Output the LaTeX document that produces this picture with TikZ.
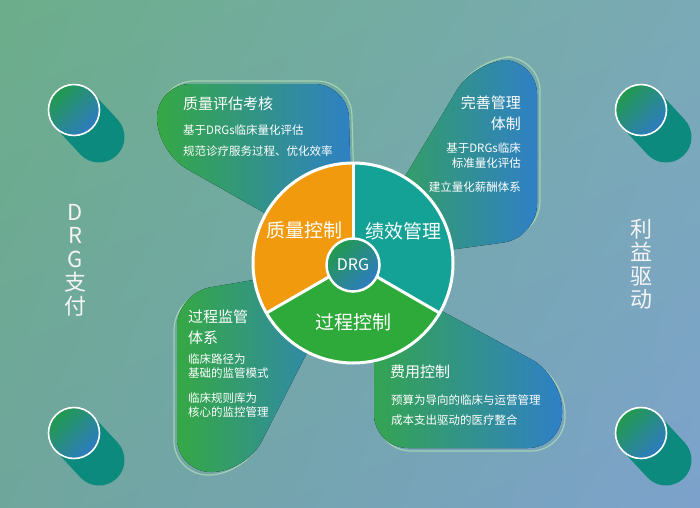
\documentclass[tikz,border=0pt]{standalone}
\usepackage{fontspec}
\setmainfont{Noto Sans CJK SC}
\usetikzlibrary{positioning,shadings}

\definecolor{bgtl}{HTML}{6CAE8A}
\definecolor{bgtr}{HTML}{7AAAB6}
\definecolor{bgbl}{HTML}{6FA69C}
\definecolor{bgbr}{HTML}{7CA2CC}
\definecolor{leafgreen}{HTML}{35A844}
\definecolor{leafblue}{HTML}{2F80C6}
\definecolor{pieorange}{HTML}{F29A0E}
\definecolor{pieteal}{HTML}{13A295}
\definecolor{piegreen}{HTML}{2DAA39}
\definecolor{dotgreen}{HTML}{229A4E}
\definecolor{dotblue}{HTML}{2E7BC2}
\definecolor{tailteal}{HTML}{0C8A7E}

% outlines of the four leaves (tip under the pie)
\newcommand{\leafQuality}{(353,263) -- (157,152) -- (157,84) -- (348,84) -- cycle}
\newcommand{\leafPerf}{(353,263) -- (475,60) -- (537,60) -- (537,238) -- cycle}
\newcommand{\leafProcess}{(353,263) -- (177,293) -- (177,472) -- (246,472) -- cycle}
\newcommand{\leafCost}{(353,263) -- (562,376) -- (562,448) -- (374,448) -- (374,330) -- cycle}

\tikzset{%
	leaf/.style   = {left color=leafgreen, right color=leafblue, rounded corners=34pt},
	rim/.style    = {draw=white!60!leafgreen, draw opacity=0.8, line width=1.2pt,
		rounded corners=34pt},
	head/.style   = {text=white, inner sep=0pt, font=\fontsize{15}{15}\selectfont},
	note/.style   = {text=white, inner sep=0pt, font=\fontsize{11.5}{11.5}\selectfont},
	slice/.style  = {draw=white, line width=3pt, line join=round},
	sector/.style = {text=white, inner sep=0pt, font=\fontsize{19}{19}\selectfont},
	hub/.style    = {circle, draw=white, line width=2.5pt, minimum size=53pt, inner sep=0pt,
		top color=dotgreen, bottom color=dotblue, shading angle=45,
		text=white, font=\fontsize{16}{16}\selectfont},
	dot/.style    = {circle, draw=white, line width=1.6pt, minimum size=51pt, inner sep=0pt,
		top color=dotgreen, bottom color=dotblue, shading angle=45},
	tail/.style   = {draw=tailteal, line width=51pt, line cap=round},
	side/.style   = {text=white!92!gray, align=center, inner sep=0pt,
		font=\fontsize{22}{23.5}\selectfont}
}

\begin{document}
\begin{tikzpicture}[x=1pt, y=-1pt]
	\useasboundingbox (0,0) rectangle (700,507);
	\shade[upper left=bgtl, upper right=bgtr, lower left=bgbl, lower right=bgbr]
		(0,0) rectangle (700,507);

	% corner discs
	\foreach \px/\py [count=\k] in {74/110, 641/110, 74/433, 641/433} {
		\draw[tail] (\px,\py) -- ++(25,27);
		\node[dot] (dot\k) at (\px,\py) {};
	}
	\node[side] (payside)  at (75,260)  {D\\R\\G\\支\\付};
	\node[side] (gainside) at (641,264) {利\\益\\驱\\动};

	% leaves
	\draw[rim, shift={(3,-3)}] \leafQuality;
	\draw[rim, shift={(3,-3)}] \leafPerf;
	\draw[rim, shift={(-3,3)}] \leafProcess;
	\draw[rim, shift={(3,3)}]  \leafCost;
	\fill[leaf] \leafQuality;
	\fill[leaf] \leafPerf;
	\fill[leaf] \leafProcess;
	\fill[leaf] \leafCost;

	\node[head, anchor=west] (qhead)  at (183,104) {质量评估考核};
	\node[note, anchor=west] (qnote1) at (183,130) {基于DRGs临床量化评估};
	\node[note, anchor=west] (qnote2) at (183,151) {规范诊疗服务过程、优化效率};

	\node[head, anchor=east] (phead1) at (521,103) {完善管理};
	\node[head, anchor=east] (phead2) at (521,124) {体制};
	\node[note, anchor=east] (pnote1) at (521,148) {基于DRGs临床};
	\node[note, anchor=east] (pnote2) at (521,163) {标准量化评估};
	\node[note, anchor=east] (pnote3) at (521,187) {建立量化薪酬体系};

	\node[head, anchor=west] (shead1) at (188,317) {过程监管};
	\node[head, anchor=west] (shead2) at (188,338) {体系};
	\node[note, anchor=west] (snote1) at (188,359) {临床路径为};
	\node[note, anchor=west] (snote2) at (188,373) {基础的监管模式};
	\node[note, anchor=west] (snote3) at (188,398) {临床规则库为};
	\node[note, anchor=west] (snote4) at (188,412) {核心的监控管理};

	\node[head, anchor=west] (chead)  at (390,372) {费用控制};
	\node[note, anchor=west] (cnote1) at (391,400) {预算为导向的临床与运营管理};
	\node[note, anchor=west] (cnote2) at (391,420) {成本支出驱动的医疗整合};

	% pie
	\coordinate (hubc) at (353,263);
	\fill[pieorange] (hubc) -- ++(150:100) arc[start angle=150, end angle=270, radius=100] -- cycle;
	\fill[pieteal]   (hubc) -- ++(-90:100) arc[start angle=-90, end angle=30, radius=100] -- cycle;
	\fill[piegreen]  (hubc) -- ++(30:100) arc[start angle=30, end angle=150, radius=100] -- cycle;
	\draw[slice] (hubc) -- ++(270:100);
	\draw[slice] (hubc) -- ++(150:100);
	\draw[slice] (hubc) -- ++(30:100);
	\draw[slice] (hubc) circle[radius=100];

	\node[sector] (quality) at (304,230) {质量控制};
	\node[sector] (perf)    at (403,231) {绩效管理};
	\node[sector] (process) at (353,322) {过程控制};
	\node[hub]    (hub)     at (353,265) {DRG};
\end{tikzpicture}
\end{document}
